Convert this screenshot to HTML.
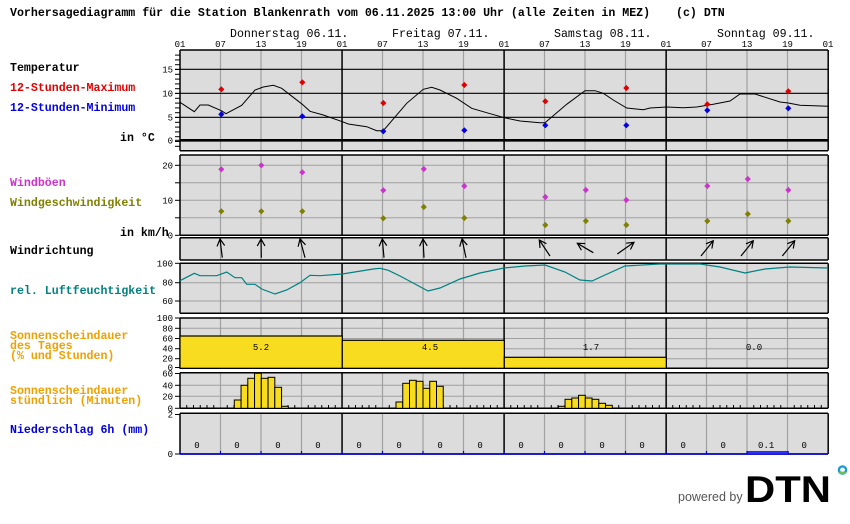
<!DOCTYPE html>
<html><head><meta charset="utf-8"><style>
html,body{margin:0;padding:0;background:#fff;}
svg{display:block;}
.t{font-family:"Liberation Mono",monospace;font-size:11.6px;font-weight:bold;}
.s{font-family:"Liberation Mono",monospace;font-size:9px;}
.d{font-family:"Liberation Mono",monospace;font-size:11.6px;}
</style></head><body>
<svg id="c" width="850" height="524" viewBox="0 0 850 524" xmlns="http://www.w3.org/2000/svg">
<g id="bg"></g>
<g id="grid"></g>
<rect x="180" y="336" width="162.3" height="32.3" fill="#f8dc20" stroke="#000" stroke-width="1.2"/>
<rect x="342.3" y="340.3" width="162" height="28" fill="#f8dc20" stroke="#000" stroke-width="1.2"/>
<rect x="504.3" y="357.3" width="162" height="11" fill="#f8dc20" stroke="#000" stroke-width="1.2"/>
<g id="hb"></g>
<rect x="747.3" y="451.7" width="41" height="2.3" fill="#4040ff" stroke="#0000e0" stroke-width="1"/>
<polyline fill="none" stroke="#000" stroke-width="1" points="180,102.3 194.3,111.7 200,105 208.3,105 221.3,110.7 226,113.7 241.7,105.3 255,90 263.3,87 273.3,85.3 281.7,88.3 302.3,104.3 310,111.3 323.3,115 342.3,121.7 348.3,124 366.7,126.7 376.7,130.7 383.3,130.7 406.7,103.3 423.3,89.3 431.7,87.3 440,90 456.7,98.3 471.7,108.3 486.7,112.7 504.3,117.7 520,121 540,122.7 545,122.7 566.7,104.3 585,90.7 595,90.7 603.3,93.3 613.3,100 626.7,108 643.3,109.7 650,108 666.7,107 683.3,107.7 696.7,107 713.3,104.3 730,101 740,94 755,94 780,102 788.3,103 800,105.3 828,106.3"/>
<polyline fill="none" stroke="#008080" stroke-width="1.2" points="180,280.7 194.3,273.3 200,275.7 216.7,275.7 226.7,272 235,277.7 241.7,277.7 246.7,284.3 255,284.3 261.7,289 275,294 286.7,290 300,282.7 310,275.3 320,275.7 342.3,274 373.3,269 380,268.3 388.3,270.3 400,276 415,284 428,291 440,288 460,279 480,273 504,268 525,266 545,265 565,272 580,280 592,281 605,275 625,266 660,264 700,264 720,267 745,273 765,269 790,267 828,268"/>
<g id="mk"></g>
<g id="arr" stroke="#000" stroke-width="1.2" fill="none"></g>
<text class="t" x="10" y="16">Vorhersagediagramm für die Station Blankenrath vom 06.11.2025 13:00 Uhr (alle Zeiten in MEZ)</text>
<text class="t" x="676" y="16">(c) DTN</text>
<text class="d" x="230" y="37">Donnerstag 06.11.</text>
<text class="d" x="392" y="37">Freitag 07.11.</text>
<text class="d" x="554" y="37">Samstag 08.11.</text>
<text class="d" x="717" y="37">Sonntag 09.11.</text>
<text class="t" x="10" y="71">Temperatur</text>
<text class="t" x="10" y="91" fill="#e00000">12-Stunden-Maximum</text>
<text class="t" x="10" y="111" fill="#0000e0">12-Stunden-Minimum</text>
<text class="t" x="120" y="141">in °C</text>
<text class="t" x="10" y="186" fill="#cc33cc">Windböen</text>
<text class="t" x="10" y="206" fill="#808000">Windgeschwindigkeit</text>
<text class="t" x="120" y="236">in km/h</text>
<text class="t" x="10" y="254">Windrichtung</text>
<text class="t" x="10" y="294" fill="#008080">rel. Luftfeuchtigkeit</text>
<text class="t" x="10" y="339" fill="#f0a000">Sonnenscheindauer</text>
<text class="t" x="10" y="349" fill="#f0a000">des Tages</text>
<text class="t" x="10" y="359" fill="#f0a000">(% und Stunden)</text>
<text class="t" x="10" y="394" fill="#f0a000">Sonnenscheindauer</text>
<text class="t" x="10" y="404" fill="#f0a000">stündlich (Minuten)</text>
<text class="t" x="10" y="433" fill="#0000e0">Niederschlag 6h (mm)</text>
<text class="s" x="261" y="350" text-anchor="middle">5.2</text>
<text class="s" x="430" y="350" text-anchor="middle">4.5</text>
<text class="s" x="591" y="350" text-anchor="middle">1.7</text>
<text class="s" x="754" y="350" text-anchor="middle">0.0</text>
<g id="lab" class="s"></g>
<text x="678" y="501" font-family="Liberation Sans,sans-serif" font-size="12.5" fill="#555">powered by</text>
<text x="745" y="502" font-family="Liberation Sans,sans-serif" font-size="37" font-weight="bold" fill="#000" textLength="86" lengthAdjust="spacingAndGlyphs">DTN</text>
<circle cx="842.5" cy="470" r="3.6" fill="none" stroke="#1a9ad6" stroke-width="2.4"/>
<path d="M839.6 471.5 A3.6 3.6 0 0 0 845.4 471.5" fill="none" stroke="#6cc04a" stroke-width="2.4"/>
</svg>
<script>
var NS="http://www.w3.org/2000/svg";
function el(p,n,a,txt){var e=document.createElementNS(NS,n);for(var k in a)e.setAttribute(k,a[k]);if(txt!==undefined)e.textContent=txt;document.getElementById(p).appendChild(e);return e;}
var L=180,R=828,DW=162.05;
function hx(h){return L+h*6.75;}
var panels=[[50,150.7],[155,235.3],[237.7,260],[263.3,313.3],[318,368.3],[372.7,408.3],[413.3,454]];
panels.forEach(function(p){el("bg","rect",{x:L,y:p[0],width:R-L,height:p[1]-p[0],fill:"#dcdcdc"});});
var G="#a0a0a0";
function hl(y,c,w){el("grid","line",{x1:L,x2:R,y1:y,y2:y,stroke:c,"stroke-width":w||1});}
[165.3,182.8,200.3,217.8].forEach(function(y){hl(y,G);});
[282.7,301].forEach(function(y){hl(y,G);});
[328.3,338.5,348.7,358.7].forEach(function(y){hl(y,G);});
[385.3,396.3].forEach(function(y){hl(y,G);});
for(var d=0;d<4;d++){[6,12,18].forEach(function(h){var x=hx(d*24+h);panels.forEach(function(p){el("grid","line",{x1:x,x2:x,y1:p[0],y2:p[1],stroke:G,"stroke-width":1.2});});});}
[69.3,93.3,117.3].forEach(function(y){hl(y,"#000",1.2);});
hl(140.3,"#000",2.6);
panels.forEach(function(p){hl(p[0],"#000",1.5);hl(p[1],"#000",1.5);});
hl(454,"#0000e0",1.5);
for(var d=0;d<=4;d++){var x=L+d*DW;panels.forEach(function(p){el("grid","line",{x1:x,x2:x,y1:p[0],y2:p[1],stroke:"#000","stroke-width":1.5});});}
for(var h=1;h<96;h++){if(h%6==0)continue;el("grid","line",{x1:hx(h),x2:hx(h),y1:405,y2:408.3,stroke:"#000","stroke-width":1});}
for(var h=0;h<=96;h+=6){el("grid","line",{x1:hx(h),x2:hx(h),y1:451,y2:454,stroke:"#0000e0","stroke-width":1.2});}
for(var i=-2;i<=19;i++){var y=141.5-i*4.8;if(y<51||y>150)continue;el("grid","line",{x1:175,x2:180,y1:y,y2:y,stroke:"#000","stroke-width":1});}
function yt(y,t){el("grid","line",{x1:175,x2:180,y1:y,y2:y,stroke:"#000","stroke-width":1});if(t!==null)el("lab","text",{x:173,y:y+3,"text-anchor":"end"},t);}
yt(69.3,"15");yt(93.3,"10");yt(117.3,"5");yt(140.3,"0");
yt(165.3,"20");yt(182.8,null);yt(200.3,"10");yt(217.8,null);yt(235.3,"0");
yt(263.3,"100");yt(282.7,"80");yt(301,"60");
yt(318,"100");yt(328.3,"80");yt(338.5,"60");yt(348.7,"40");yt(358.7,"20");yt(367.5,"0");
yt(373.5,"60");yt(385.3,"40");yt(396.3,"20");yt(408.3,"0");
yt(414.5,"2");yt(454,"0");
for(var d=0;d<4;d++){["01","07","13","19"].forEach(function(t,i){el("lab","text",{x:hx(d*24+i*6),y:47,"text-anchor":"middle"},t);});}
el("lab","text",{x:R,y:47,"text-anchor":"middle"},"01");
var pl=[["0","0","0","0"],["0","0","0","0"],["0","0","0","0"],["0","0","0.1","0"]];
var po=[17,57,98,138];
for(var d=0;d<4;d++)for(var i=0;i<4;i++){var o=po[i]+(pl[d][i]=="0.1"?2:0);el("lab","text",{x:L+d*DW+o,y:448,"text-anchor":"middle"},pl[d][i]);}
var bars=[[234.3,[400,385.3,378.3,373.3,378.3,377.3,387.3,406.3]],[396,[402,383.3,380.3,381.3,388.3,381.3,386.3]],[558.3,[406.3,399.3,398,395.3,398,399.3,403.3,405.3]]];
bars.forEach(function(b){b[1].forEach(function(t,i){el("hb","rect",{x:b[0]+i*6.75,y:t,width:6.75,height:408.3-t,fill:"#f8dc20",stroke:"#000","stroke-width":1});});});
function mk(x,y,c){el("mk","path",{d:"M"+(x-2.5)+" "+y+"L"+x+" "+(y-2.5)+"L"+(x+2.5)+" "+y+"L"+x+" "+(y+2.5)+"Z",fill:c,stroke:c,"stroke-width":0.8});}
var X=[221.3,302.3,383.3,464.3,545.3,626.3,707.3,788.3];
var mx=[89.3,82.3,103,85,101.3,88,104.3,91.3],mn=[114.3,116.3,131.3,130.3,125.3,125.3,110.3,108.3];
for(var i=0;i<8;i++){mk(X[i],mx[i],"#e00000");mk(X[i],mn[i],"#0000e0");}
var W=[[221.3,169.3,211.3],[261.3,165.3,211.3],[302.3,172.3,211.3],[383.3,190.3,218.3],[423.8,169,207],[464.3,186,218],[545.3,197,225],[585.8,190,221],[626.3,200,225],[707.3,186,221],[747.8,179,214],[788.3,190,221]];
W.forEach(function(w){mk(w[0],w[1],"#cc33cc");mk(w[0],w[2],"#808000");});
var A=[[222.3,257.7,220,239],[261.3,257.7,261,239],[305,257.7,300,239],[384,257.7,382.3,239],[424,257.7,423,239],[466,257.7,462,239],[550,256,539.3,240],[593.3,252.7,577.3,243.3],[617.3,254,634,242.3],[701,256,713.3,240.7],[741,256,753.3,240.7],[782.3,256,794.7,240.7]];
A.forEach(function(a){var dx=a[2]-a[0],dy=a[3]-a[1],l=Math.sqrt(dx*dx+dy*dy),vx=-dx/l,vy=-dy/l,s=8,an=0.5;
function b(t){var c=Math.cos(t),sn=Math.sin(t);return [a[2]+(vx*c-vy*sn)*s,a[3]+(vx*sn+vy*c)*s];}
var p1=b(an),p2=b(-an);
el("arr","path",{d:"M"+a[0]+" "+a[1]+"L"+a[2]+" "+a[3]+"M"+p1[0]+" "+p1[1]+"L"+a[2]+" "+a[3]+"L"+p2[0]+" "+p2[1]});});
</script>
</body></html>
